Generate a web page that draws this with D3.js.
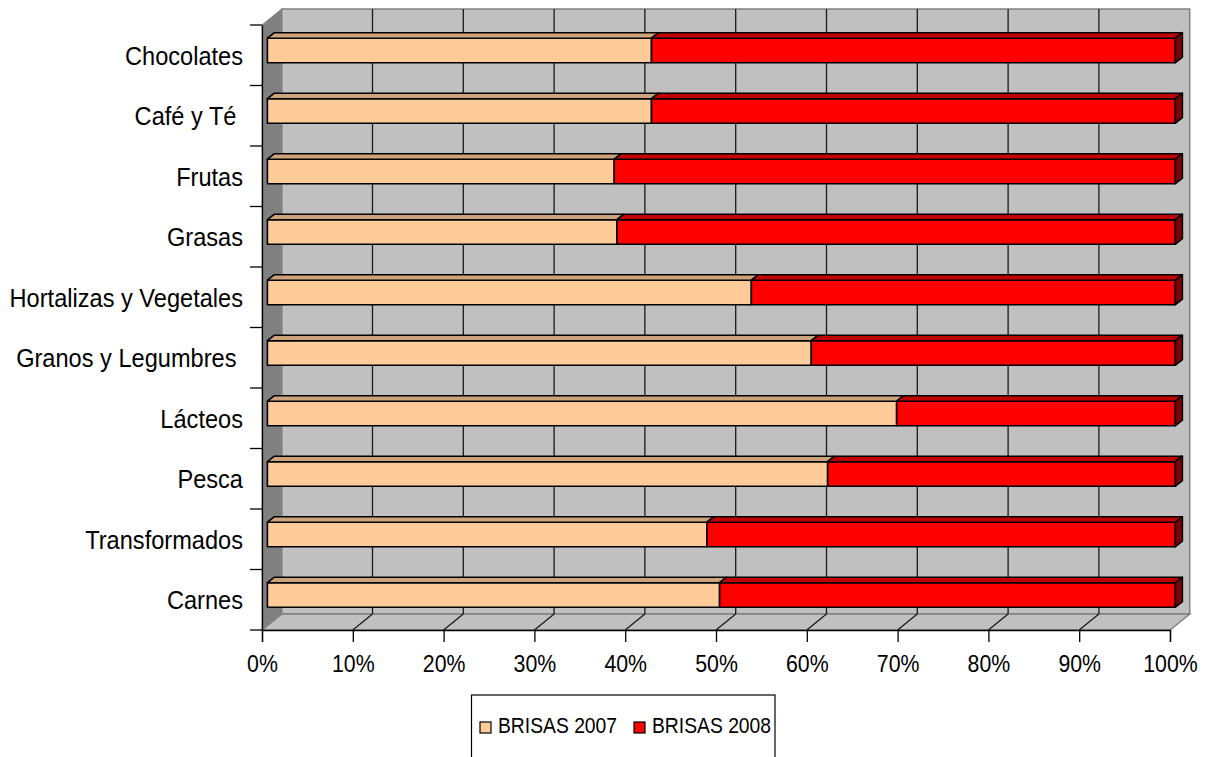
<!DOCTYPE html>
<html>
<head>
<meta charset="utf-8">
<script src="https://cdn.jsdelivr.net/npm/d3@7/dist/d3.min.js"></script>
<style>
  html, body { margin: 0; padding: 0; background: #ffffff; }
  svg { display: block; font-family: "Liberation Sans", Arial, sans-serif; }
  text { white-space: pre; }
</style>
</head>
<body>
<svg id="chart" width="1209" height="757"></svg>
<script>
// Categories from top to bottom
const categories = ["Chocolates", "Café y Té ", "Frutas", "Grasas", "Hortalizas y Vegetales",
  "Granos y Legumbres ", "Lácteos", "Pesca", "Transformados", "Carnes"];
// Share of each year (percent of the category total)
const brisas2007 = [42.3, 42.3, 38.2, 38.5, 53.3, 59.9, 69.3, 61.7, 48.4, 49.8];
const brisas2008 = [57.7, 57.7, 61.8, 61.5, 46.7, 40.1, 30.7, 38.3, 51.6, 50.2];
const seriesNames = ["BRISAS 2007", "BRISAS 2008"];
const tickValues = [0, 10, 20, 30, 40, 50, 60, 70, 80, 90, 100];

const svg = d3.select("#chart");

// Front plane of the plot
const x = d3.scaleLinear().domain([0, 100]).range([262, 1170]);
const y = d3.scaleBand().domain(categories).range([25, 630]);

// 3D depth of the walls and of the bars
const wall = { dx: 19.7, dy: -16 };
const barPos = { dx: 5.4, dy: -4.8 };
const barDepth = { dx: 7, dy: -5.5 };
const barH = 24.5;
const stretch = 1.12;

const faces = [
  { front: "#FFCC99", top: "#CCA37A", side: "#997A5C" },
  { front: "#FF0000", top: "#C00000", side: "#800000" }
];

const pts = a => a.map(p => p.join(",")).join(" ");

// Back wall
svg.append("rect")
  .attr("x", x(0) + wall.dx).attr("y", y.range()[0] + wall.dy)
  .attr("width", x(100) - x(0)).attr("height", y.range()[1] - y.range()[0])
  .attr("fill", "#C0C0C0").attr("stroke", "#808080").attr("stroke-width", 1.5);

// Floor
svg.append("polygon")
  .attr("points", pts([[x(0), 630], [x(100), 630], [x(100) + wall.dx, 630 + wall.dy], [x(0) + wall.dx, 630 + wall.dy]]))
  .attr("fill", "#C0C0C0").attr("stroke", "#808080").attr("stroke-width", 1.5);

// Side wall
svg.append("polygon")
  .attr("points", pts([[x(0), 25], [x(0) + wall.dx, 25 + wall.dy], [x(0) + wall.dx, 630 + wall.dy], [x(0), 630]]))
  .attr("fill", "#808080").attr("stroke", "#808080").attr("stroke-width", 1);

// Gridlines on the back wall and the floor
const inner = tickValues.slice(1, -1);
svg.append("g").selectAll("line").data(inner).join("line")
  .attr("x1", d => x(d) + wall.dx).attr("x2", d => x(d) + wall.dx)
  .attr("y1", 25 + wall.dy).attr("y2", 630 + wall.dy)
  .attr("stroke", "#1a1a1a").attr("stroke-width", 1.3);
svg.append("g").selectAll("line").data(inner).join("line")
  .attr("x1", d => x(d)).attr("x2", d => x(d) + wall.dx)
  .attr("y1", 630).attr("y2", 630 + wall.dy)
  .attr("stroke", "#1a1a1a").attr("stroke-width", 1.3);

// Axes
const xAxis = svg.append("g").attr("transform", "translate(0,630)")
  .call(d3.axisBottom(x).tickValues(tickValues).tickSize(12).tickFormat(d => d + "%"));
const yAxis = svg.append("g").attr("transform", `translate(${x(0)},0)`)
  .call(d3.axisLeft(y).tickValues([]).tickSizeOuter(0));
[xAxis, yAxis].forEach(g => {
  g.select(".domain").attr("stroke", "#000").attr("stroke-width", 1.3);
  g.selectAll(".tick line").attr("stroke", "#000").attr("stroke-width", 1.3);
});
xAxis.selectAll(".tick text").remove();
xAxis.selectAll(".tick").append("text")
  .attr("transform", `translate(0,41.7) scale(1,${stretch})`)
  .attr("text-anchor", "middle").attr("font-size", 21.3).attr("fill", "#000")
  .text(d => d + "%");

// Category ticks at band boundaries
const bounds = d3.range(categories.length + 1).map(i => y.range()[0] + i * y.step());
svg.append("g").selectAll("line").data(bounds).join("line")
  .attr("x1", x(0) - 12).attr("x2", x(0)).attr("y1", d => d).attr("y2", d => d)
  .attr("stroke", "#000").attr("stroke-width", 1.3);

// Category labels
svg.append("g").selectAll("text").data(categories).join("text")
  .attr("transform", d => `translate(243,${y(d) + y.bandwidth() / 2 + 9.3}) scale(1,${stretch})`)
  .attr("text-anchor", "end").attr("font-size", 23.6).attr("fill", "#000")
  .text(d => d);

// Stacked 3D bars
const rows = categories.map((c, i) => {
  const v = [brisas2007[i], brisas2008[i]];
  let acc = 0;
  return v.map((val, s) => { const seg = { cat: c, s, x0: acc, x1: acc + val }; acc += val; return seg; });
});

const bars = svg.append("g");
rows.forEach(row => {
  row.forEach((seg, k) => {
    const yc = y(seg.cat) + y.bandwidth() / 2 + barPos.dy;
    const yt = yc - barH / 2, yb = yc + barH / 2;
    const xa = x(seg.x0) + barPos.dx, xb = x(seg.x1) + barPos.dx;
    const g = bars.append("g").attr("stroke", "#000").attr("stroke-width", 1.6).attr("stroke-linejoin", "round");
    g.append("rect").attr("x", xa).attr("y", yt).attr("width", xb - xa).attr("height", barH)
      .attr("fill", faces[seg.s].front);
    g.append("polygon")
      .attr("points", pts([[xa, yt], [xa + barDepth.dx, yt + barDepth.dy], [xb + barDepth.dx, yt + barDepth.dy], [xb, yt]]))
      .attr("fill", faces[seg.s].top);
    if (k === row.length - 1) {
      g.append("polygon")
        .attr("points", pts([[xb, yt], [xb + barDepth.dx, yt + barDepth.dy], [xb + barDepth.dx, yb + barDepth.dy], [xb, yb]]))
        .attr("fill", faces[seg.s].side);
    }
  });
});

// Legend
const legend = svg.append("g");
legend.append("rect").attr("x", 471.5).attr("y", 695).attr("width", 303.5).attr("height", 70)
  .attr("fill", "#fff").attr("stroke", "#000").attr("stroke-width", 1.2);
const legendX = [480, 634];
seriesNames.forEach((name, i) => {
  legend.append("rect").attr("x", legendX[i]).attr("y", 722).attr("width", 11).attr("height", 11)
    .attr("fill", faces[i].front).attr("stroke", "#000").attr("stroke-width", 1.2);
  legend.append("text")
    .attr("transform", `translate(${legendX[i] + 18},733.3) scale(1,${stretch})`)
    .attr("font-size", 19.3).attr("fill", "#000").text(name);
});
</script>
</body>
</html>
